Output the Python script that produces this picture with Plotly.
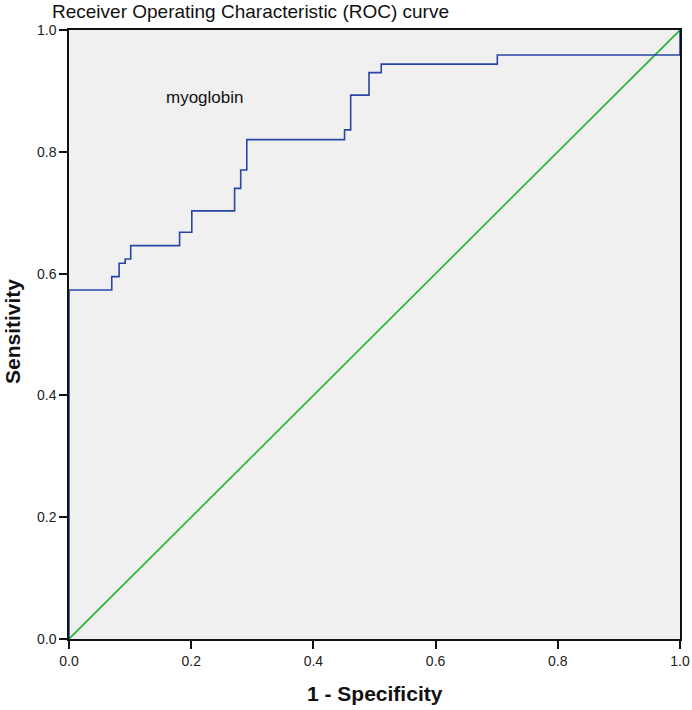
import plotly.graph_objects as go

# ROC step curve for myoglobin
fpr = [0.0, 0.0, 0.070, 0.070, 0.082, 0.082, 0.092, 0.092, 0.101, 0.101,
       0.181, 0.181, 0.201, 0.201, 0.271, 0.271, 0.281, 0.281, 0.291, 0.291,
       0.451, 0.451, 0.461, 0.461, 0.491, 0.491, 0.511, 0.511, 0.701, 0.701,
       1.0, 1.0]
tpr = [0.0, 0.573, 0.573, 0.595, 0.595, 0.617, 0.617, 0.624, 0.624, 0.646,
       0.646, 0.668, 0.668, 0.703, 0.703, 0.740, 0.740, 0.770, 0.770, 0.820,
       0.820, 0.836, 0.836, 0.893, 0.893, 0.930, 0.930, 0.944, 0.944, 0.959,
       0.959, 1.0]
ref_x = [0.0, 1.0]
ref_y = [0.0, 1.0]
ticks = [0.0, 0.2, 0.4, 0.6, 0.8, 1.0]
tick_text = ["0.0", "0.2", "0.4", "0.6", "0.8", "1.0"]

W, H = 692, 710
L, R, T, B = 69, 12, 30, 71
PW, PH = W - L - R, H - T - B

fig = go.Figure()
fig.add_trace(go.Scatter(x=ref_x, y=ref_y, mode="lines",
                         line=dict(color="#1fb52a", width=1.6), hoverinfo="skip"))
fig.add_trace(go.Scatter(x=fpr, y=tpr, mode="lines",
                         line=dict(color="#2a45a8", width=1.6), name="myoglobin"))

fig.add_annotation(x=0.222, y=0.889, text="myoglobin", showarrow=False,
                   font=dict(size=17, color="#111111"))

# axis titles placed as paper annotations
fig.add_annotation(x=(375 - L) / PW, y=-(693 - (H - B)) / PH, xref="paper", yref="paper",
                   xanchor="center", yanchor="middle",
                   text="<b>1 - Specificity</b>", showarrow=False,
                   font=dict(size=21, color="#111111"))
fig.add_annotation(x=-(L - 13) / PW, y=((H - B) - 332) / PH, xref="paper", yref="paper",
                   xanchor="center", yanchor="middle",
                   text="<b>Sensitivity</b>", textangle=-90, showarrow=False,
                   font=dict(size=21, color="#111111"))

axis_common = dict(
    range=[0, 1], tickvals=ticks, ticktext=tick_text, showgrid=False, zeroline=False,
    showline=True, linecolor="#111111", linewidth=1.5, mirror=True,
    ticks="outside", ticklen=8, tickwidth=1.5, tickcolor="#111111",
    tickfont=dict(family="Liberation Sans, Arial", size=14, color="#222222"),
    automargin=False,
)

fig.update_layout(
    width=W, height=H,
    margin=dict(l=L, r=R, t=T, b=B),
    paper_bgcolor="white", plot_bgcolor="#f0f0f0",
    showlegend=False,
    font=dict(family="Liberation Sans, Arial"),
    title=dict(text="Receiver Operating Characteristic (ROC) curve",
               x=52 / W, xanchor="left", y=1 - 5 / H, yanchor="top",
               font=dict(size=19, color="#111111")),
    xaxis=axis_common,
    yaxis=axis_common,
)

# drop the browser's default 8px body margin so the figure fills the window
fig.write_html("out.html", config={"displayModeBar": False},
               post_script="document.body.style.margin = '0';")
